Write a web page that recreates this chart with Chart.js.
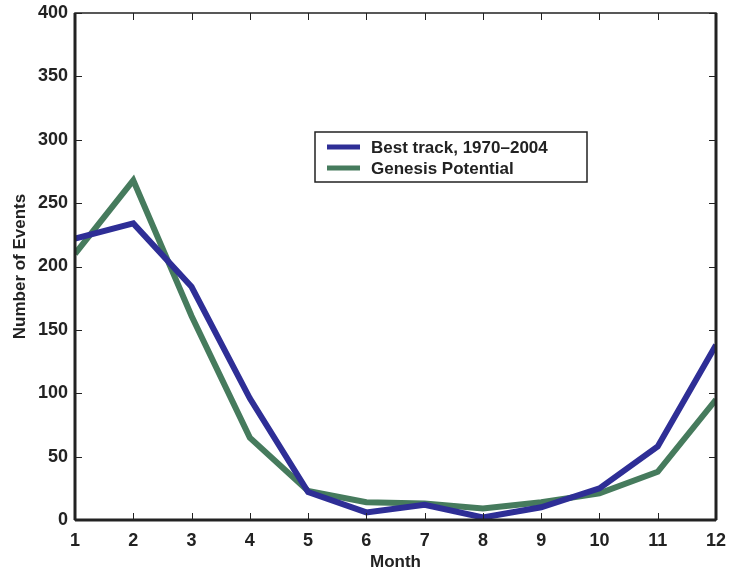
<!DOCTYPE html>
<html>
<head>
<meta charset="utf-8">
<script src="https://cdn.jsdelivr.net/npm/chart.js@4.4.0/dist/chart.umd.min.js"></script>
<style>
  html, body { margin: 0; padding: 0; background: #fff; }
  #wrap { width: 731px; height: 573px; position: relative; }
</style>
</head>
<body>
<div id="wrap"><canvas id="chart"></canvas></div>
<script>
// Data
const months = [1, 2, 3, 4, 5, 6, 7, 8, 9, 10, 11, 12];
const bestTrack = [222, 234, 184, 96, 22, 6, 12, 2, 10, 25, 58, 138];
const genesisPotential = [210, 268, 161, 65, 23, 14, 13, 9, 14, 21, 38, 95];
const yTicks = [0, 50, 100, 150, 200, 250, 300, 350, 400];

const FONT = "'Liberation Sans', Arial, sans-serif";

// MATLAB-style box with inward ticks on all four sides
const boxTicks = {
    id: 'boxTicks',
    afterDraw(chart) {
        const { ctx, chartArea: a, scales: { x, y } } = chart;
        ctx.save();
        ctx.strokeStyle = '#222';
        ctx.lineWidth = 1;
        const len = 7;
        months.forEach(m => {
            const px = Math.round(x.getPixelForValue(m)) + 0.5;
            ctx.beginPath();
            ctx.moveTo(px, a.bottom); ctx.lineTo(px, a.bottom - len);
            ctx.moveTo(px, a.top); ctx.lineTo(px, a.top + len);
            ctx.stroke();
        });
        yTicks.forEach(v => {
            const py = Math.round(y.getPixelForValue(v)) + 0.5;
            ctx.beginPath();
            ctx.moveTo(a.left, py); ctx.lineTo(a.left + len, py);
            ctx.moveTo(a.right, py); ctx.lineTo(a.right - len, py);
            ctx.stroke();
        });
        ctx.lineWidth = 1.5;
        ctx.strokeRect(a.left, a.top, a.right - a.left, a.bottom - a.top);
        ctx.lineWidth = 3;
        ctx.beginPath();
        ctx.moveTo(a.left, a.bottom); ctx.lineTo(a.right, a.bottom);
        ctx.moveTo(a.left, a.top); ctx.lineTo(a.left, a.bottom);
        ctx.moveTo(a.right, a.top); ctx.lineTo(a.right, a.bottom);
        ctx.stroke();

        // legend box
        const lx = 315, ly = 132, lw = 272, lh = 50;
        ctx.fillStyle = '#fff';
        ctx.fillRect(lx, ly, lw, lh);
        ctx.lineWidth = 1.5;
        ctx.strokeRect(lx, ly, lw, lh);
        ctx.font = 'bold 17px ' + FONT;
        ctx.textBaseline = 'middle';
        chart.data.datasets.forEach((ds, i) => {
            const cy = ly + 15 + i * 21;
            ctx.strokeStyle = ds.borderColor;
            ctx.lineWidth = 5;
            ctx.beginPath();
            ctx.moveTo(lx + 12, cy); ctx.lineTo(lx + 45, cy);
            ctx.stroke();
            ctx.fillStyle = '#222';
            ctx.fillText(ds.label, lx + 56, cy + 1);
        });
        ctx.restore();
    }
};

new Chart(document.getElementById('chart'), {
    type: 'line',
    data: {
        labels: months,
        datasets: [
            {
                label: 'Best track, 1970\u20132004',
                data: bestTrack,
                borderColor: '#2e2e96',
                borderWidth: 6,
                pointRadius: 0,
                tension: 0
            },
            {
                label: 'Genesis Potential',
                data: genesisPotential,
                borderColor: '#467b5d',
                borderWidth: 6,
                pointRadius: 0,
                tension: 0
            }
        ]
    },
    options: {
        responsive: true,
        maintainAspectRatio: false,
        animation: false,
        layout: { padding: { top: 13, right: 15, left: 0, bottom: 0 } },
        plugins: {
            legend: { display: false },
            tooltip: { enabled: false }
        },
        scales: {
            x: {
                type: 'linear',
                min: 1,
                max: 12,
                grid: { display: false, drawTicks: false },
                border: { display: false },
                afterBuildTicks: s => { s.ticks = months.map(v => ({ value: v })); },
                afterFit: s => { s.height = 53; s.paddingLeft = 0; s.paddingRight = 0; },
                ticks: {
                    color: '#222',
                    padding: 10,
                    maxRotation: 0,
                    autoSkip: false,
                    font: { family: FONT, size: 18, weight: 'bold' }
                },
                title: {
                    display: true,
                    text: 'Month',
                    color: '#222',
                    padding: { top: 0, bottom: 0 },
                    font: { family: FONT, size: 17, weight: 'bold' }
                }
            },
            y: {
                min: 0,
                max: 400,
                grid: { display: false, drawTicks: false },
                border: { display: false },
                afterBuildTicks: s => { s.ticks = yTicks.map(v => ({ value: v })); },
                afterFit: s => { s.width = 75; s.paddingTop = 0; s.paddingBottom = 0; },
                ticks: {
                    color: '#222',
                    padding: 7,
                    font: { family: FONT, size: 18, weight: 'bold' }
                },
                title: {
                    display: true,
                    text: 'Number of Events',
                    color: '#222',
                    padding: { top: 10, bottom: 0 },
                    font: { family: FONT, size: 17, weight: 'bold' }
                }
            }
        }
    },
    plugins: [boxTicks]
});
</script>
</body>
</html>
